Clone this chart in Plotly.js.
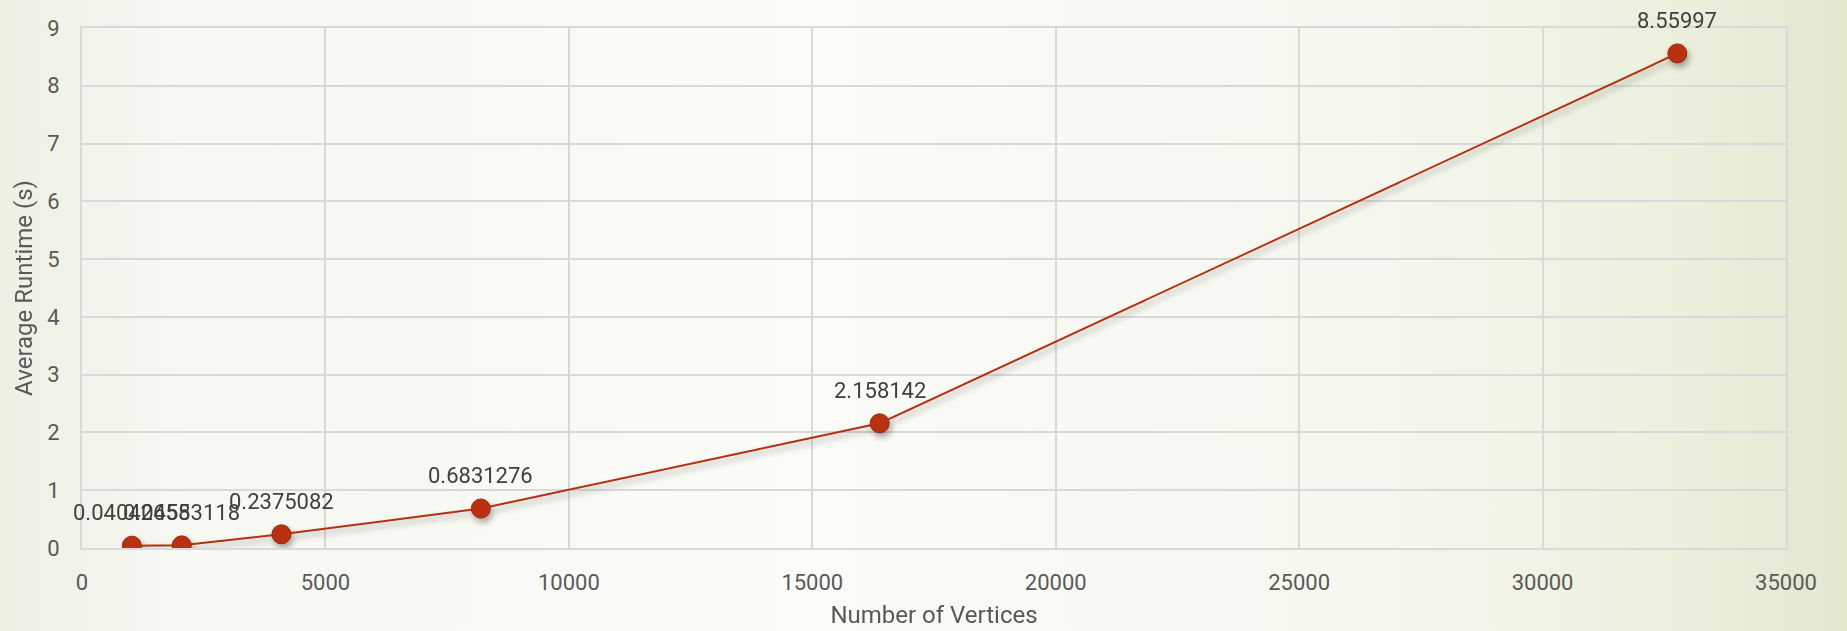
<!DOCTYPE html>
<html>
<head>
<meta charset="utf-8">
<script src="https://cdn.plot.ly/plotly-3.0.1.min.js"></script>
<style>
  html, body { margin: 0; padding: 0; }
  body {
    width: 1847px; height: 631px; overflow: hidden;
    background: linear-gradient(90deg, #eef0e4 0%, #f7f8f2 10%, #fbfbf7 45%, #f5f7ee 75%, #ecf0de 90%, #e2e8ce 100%);
  }
  #chart { width: 1847px; height: 631px; }
  .scatterlayer .trace { filter: drop-shadow(2px 4px 3px rgba(0,0,0,0.35)); }
</style>
</head>
<body>
<div id="chart"></div>
<script>
// Average runtime measured for graphs of increasing size
const vertices = [1024, 2048, 4096, 8192, 16384, 32768];
const runtimeSeconds = [0.04042655, 0.04583118, 0.2375082, 0.6831276, 2.158142, 8.55997];
const runtimeLabels = runtimeSeconds.map(v => String(v));

const xTicks = [0, 5000, 10000, 15000, 20000, 25000, 30000, 35000];
const yTicks = [0, 1, 2, 3, 4, 5, 6, 7, 8, 9];

const textColor = '#595959';
const gridColor = '#d9d9d9';
const seriesColor = '#b5300f';
const fontFamily = 'Roboto, "DejaVu Sans", sans-serif';

const trace = {
  type: 'scatter',
  mode: 'lines+markers',
  x: vertices,
  y: runtimeSeconds,
  line: { color: seriesColor, width: 2 },
  marker: { color: '#b9310e', size: 19, line: { color: '#9c2608', width: 1 } },
  hoverinfo: 'x+y',
  showlegend: false
};

const labels = vertices.map((x, i) => ({
  x: x,
  y: runtimeSeconds[i],
  xref: 'x', yref: 'y',
  text: runtimeLabels[i],
  showarrow: false,
  yanchor: 'middle',
  yshift: 33,
  font: { family: fontFamily, size: 22, color: '#404040' }
}));

const layout = {
  width: 1847,
  height: 631,
  margin: { l: 82, r: 61, t: 28, b: 83 },
  paper_bgcolor: 'rgba(0,0,0,0)',
  plot_bgcolor: 'rgba(0,0,0,0)',
  font: { family: fontFamily, size: 22, color: textColor },
  xaxis: {
    range: [0, 35000],
    tickvals: xTicks,
    ticktext: xTicks.map(String),
    showgrid: true,
    gridcolor: gridColor,
    gridwidth: 2,
    showline: true,
    linecolor: gridColor,
    linewidth: 2,
    mirror: true,
    zeroline: false,
    ticks: '',
    ticklabelstandoff: 14,
    tickfont: { family: fontFamily, size: 22, color: textColor },
    title: { text: 'Number of Vertices', standoff: 12, font: { family: fontFamily, size: 24, color: textColor } }
  },
  yaxis: {
    range: [0, 9],
    tickvals: yTicks,
    ticktext: yTicks.map(String),
    showgrid: true,
    gridcolor: gridColor,
    gridwidth: 2,
    showline: true,
    linecolor: gridColor,
    linewidth: 2,
    mirror: true,
    zeroline: false,
    ticks: '',
    ticklabelstandoff: 16,
    tickfont: { family: fontFamily, size: 22, color: textColor },
    title: { text: 'Average Runtime (s)', standoff: 8, font: { family: fontFamily, size: 24, color: textColor } }
  },
  annotations: labels
};

Plotly.newPlot('chart', [trace], layout, { displayModeBar: false, staticPlot: true });
</script>
</body>
</html>
